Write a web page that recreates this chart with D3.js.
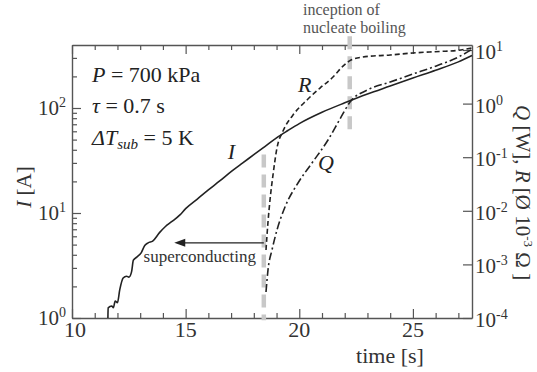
<!DOCTYPE html>
<html>
<head>
<meta charset="utf-8">
<script src="https://cdn.jsdelivr.net/npm/d3@7"></script>
<style>
  body { margin: 0; background: #fff; }
  svg { display: block; }
</style>
</head>
<body>
<svg id="chart" width="537" height="372"></svg>
<script>
// current I (left axis)
const iTime = [11.58, 11.59, 11.75, 11.82, 11.9, 12.0, 12.1, 12.25, 12.4, 12.5, 12.62, 12.7, 12.85, 13.05, 13.2, 13.35, 13.55, 13.85, 14.1, 14.4, 14.75,
  15, 15.5, 16, 16.5, 17, 17.5, 18, 18.5, 19, 19.5, 20, 21, 22, 23, 24, 25, 26, 27, 27.6];
const iAmp = [1.0, 1.25, 1.3, 1.25, 1.45, 1.4, 1.85, 2.4, 2.5, 2.45, 2.75, 3.55, 3.8, 4.2, 4.9, 5.2, 5.4, 6.5, 7.4, 8.3, 9.6,
  11, 13.5, 16.6, 20.2, 24.8, 29.9, 35.9, 43.2, 52, 61, 71, 91, 112, 136, 162, 193, 229, 275, 316];

// resistance R (right axis)
const rTime = [18.536, 18.624, 18.712, 18.844, 19.02, 19.284, 19.724, 20.34, 20.912, 21.484, 21.924, 22.276, 22.8, 24, 25, 26.19, 26.94, 27.6];
const rVal = [0.00186, 0.0062, 0.0159, 0.0466, 0.149, 0.308, 0.612, 1.17, 1.95, 3.13, 5.0, 6.5, 7.4, 8.07, 8.8, 9.4, 9.8, 10.9];

// heat Q (right axis)
const qTime = [18.536, 18.624, 18.8, 19.02, 19.372, 19.944, 20.56, 21.264, 21.792, 22.232, 23, 24, 25, 26, 27, 27.6];
const qVal = [0.000305, 0.00079, 0.00186, 0.00439, 0.0118, 0.033, 0.078, 0.209, 0.516, 1.07, 1.8, 2.53, 3.56, 5.0, 7.4, 10.3];

// ticks
const xTicks = d3.range(10, 28, 1);
const xLabels = [10, 15, 20, 25];
const leftDecades = [0, 1, 2];
const rightDecades = [-4, -3, -2, -1, 0, 1];

// gray markers
const transitionT = 18.44, boilingT = 22.22;

const serif = '"Liberation Serif", "DejaVu Serif", serif';
const svg = d3.select('#chart').attr('font-family', serif);
const m = { left: 72, right: 472, top: 45, bottom: 318 };

const x = d3.scaleLinear().domain([10, 27.6]).range([m.left, m.right]);
const yL = d3.scaleLog().domain([1, Math.pow(10, 2.6)]).range([m.bottom, m.top]);
const yR = d3.scaleLog().domain([1e-4, Math.pow(10, 1.0933)]).range([m.bottom, m.top]);

const axisColor = '#555';

// left minor ticks 1..9 per decade
const leftTicks = [];
leftDecades.forEach(p => { for (let k = 1; k < 10; k++) { const v = k * Math.pow(10, p); if (v <= yL.domain()[1]) leftTicks.push(v); } });

function styleAxis(g) {
  g.selectAll('path.domain').attr('stroke', axisColor).attr('stroke-width', 1.4);
  g.selectAll('.tick line').attr('stroke', axisColor).attr('stroke-width', 1.2);
  g.selectAll('.tick text').remove();
}

svg.append('g').attr('transform', `translate(0,${m.bottom})`)
  .call(d3.axisBottom(x).tickValues(xTicks).tickSize(-5).tickSizeOuter(0).tickFormat(''))
  .call(styleAxis)
  .selectAll('.tick line').filter(d => d % 5 === 0).attr('y2', -9);

svg.append('g').attr('transform', `translate(0,${m.top})`)
  .call(d3.axisTop(x).tickValues(xTicks).tickSize(-5).tickSizeOuter(0).tickFormat(''))
  .call(styleAxis)
  .selectAll('.tick line').filter(d => d % 5 === 0).attr('y2', 9);

svg.append('g').attr('transform', `translate(${m.left},0)`)
  .call(d3.axisLeft(yL).tickValues(leftTicks).tickSize(-5).tickSizeOuter(0).tickFormat(''))
  .call(styleAxis)
  .selectAll('.tick line').filter(d => Math.abs(Math.log10(d) % 1) < 1e-9).attr('x2', 9);

svg.append('g').attr('transform', `translate(${m.right},0)`)
  .call(d3.axisRight(yR).tickValues(rightDecades.map(p => Math.pow(10, p))).tickSize(-9).tickSizeOuter(0).tickFormat(''))
  .call(styleAxis);

// tick labels
const lab = svg.append('g').attr('fill', '#333');
xLabels.forEach(v => {
  lab.append('text').attr('x', x(v) + (v === 10 ? 3 : 0)).attr('y', m.bottom + 19).attr('text-anchor', 'middle')
    .attr('font-size', 22).text(v);
});
function powLabel(g, px, py, p, anchor) {
  const t = g.append('text').attr('x', px).attr('y', py).attr('text-anchor', anchor).attr('font-size', 21);
  t.append('tspan').text('10');
  t.append('tspan').attr('dy', -8).attr('font-size', 14).text(p);
}
leftDecades.forEach(p => powLabel(lab, m.left - 6, yL(Math.pow(10, p)) + 7, p, 'end'));
rightDecades.forEach(p => powLabel(lab, m.right + 3, yR(Math.pow(10, p)) + 9, p, 'start'));

// axis titles
const lt = lab.append('text').attr('transform', `translate(31,187) rotate(-90)`)
  .attr('text-anchor', 'middle').attr('font-size', 21);
lt.append('tspan').attr('font-style', 'italic').text('I');
lt.append('tspan').text(' [A]');

const rt = lab.append('text').attr('transform', `translate(516,105) rotate(90)`)
  .attr('text-anchor', 'start').attr('font-size', 21);
rt.append('tspan').attr('font-style', 'italic').text('Q');
rt.append('tspan').text(' [W], ');
rt.append('tspan').attr('font-style', 'italic').text('R');
rt.append('tspan').text(' [Ø 10');
rt.append('tspan').attr('dy', -8).attr('font-size', 13).text('-3');
rt.append('tspan').attr('dy', 8).text(' Ω ]');

lab.append('text').attr('x', 390).attr('y', 363).attr('text-anchor', 'middle')
  .attr('font-size', 22).text('time [s]');

// gray markers
const gray = svg.append('g').attr('stroke', '#c8c8c8').attr('stroke-width', 4.5)
  .attr('stroke-dasharray', '13,7');
gray.append('line').attr('x1', x(transitionT)).attr('x2', x(transitionT))
  .attr('y1', yL(36)).attr('y2', yL(0.95));
gray.append('line').attr('x1', x(boilingT)).attr('x2', x(boilingT))
  .attr('y1', yR(18)).attr('y2', yR(0.33));

// curves
const lineI = d3.line().x((d, i) => x(iTime[i])).y(d => yL(d)).curve(d3.curveMonotoneX);
const lineR = d3.line().x((d, i) => x(rTime[i])).y(d => yR(d)).curve(d3.curveMonotoneX);
const lineQ = d3.line().x((d, i) => x(qTime[i])).y(d => yR(d)).curve(d3.curveMonotoneX);

svg.append('path').attr('d', lineI(iAmp)).attr('fill', 'none').attr('stroke', '#222').attr('stroke-width', 1.6);
svg.append('path').attr('d', lineR(rVal)).attr('fill', 'none').attr('stroke', '#222').attr('stroke-width', 1.6)
  .attr('stroke-dasharray', '5,3');
svg.append('path').attr('d', lineQ(qVal)).attr('fill', 'none').attr('stroke', '#222').attr('stroke-width', 1.6)
  .attr('stroke-dasharray', '8,3,2,3');

// curve labels
const cl = svg.append('g').attr('font-size', 22).attr('font-style', 'italic').attr('fill', '#222');
cl.append('text').attr('x', x(16.85)).attr('y', yL(33)).text('I');
cl.append('text').attr('x', x(19.94)).attr('y', yR(1.64)).text('R');
cl.append('text').attr('x', x(20.82)).attr('y', yR(0.058)).text('Q');

// parameters
const pg = svg.append('g').attr('font-size', 22).attr('fill', '#222');
const p1 = pg.append('text').attr('x', m.left + 20).attr('y', 82);
p1.append('tspan').attr('font-style', 'italic').text('P');
p1.append('tspan').text(' = 700 kPa');
const p2 = pg.append('text').attr('x', m.left + 20).attr('y', 113);
p2.append('tspan').attr('font-style', 'italic').text('τ');
p2.append('tspan').text(' = 0.7 s');
const p3 = pg.append('text').attr('x', m.left + 20).attr('y', 145);
p3.append('tspan').attr('font-style', 'italic').text('ΔT');
p3.append('tspan').attr('font-style', 'italic').attr('font-size', 15).attr('dy', 4).text('sub');
p3.append('tspan').attr('dy', -4).text(' = 5 K');

// arrow + superconducting
const arrowY = yL(5.2);
svg.append('line').attr('x1', x(transitionT)).attr('x2', x(14.95)).attr('y1', arrowY).attr('y2', arrowY)
  .attr('stroke', '#222').attr('stroke-width', 1.3);
const ax = x(14.5);
svg.append('path').attr('d', `M${ax},${arrowY} l11,-4 l0,8 z`).attr('fill', '#222');
svg.append('text').attr('x', x(13.15)).attr('y', yL(3.41)).attr('font-size', 17).attr('fill', '#333')
  .text('superconducting');

// inception label
const ib = svg.append('g').attr('font-size', 16).attr('fill', '#555');
ib.append('text').attr('x', 303).attr('y', 15).text('inception of');
ib.append('text').attr('x', 303).attr('y', 33).text('nucleate boiling');
</script>
</body>
</html>
